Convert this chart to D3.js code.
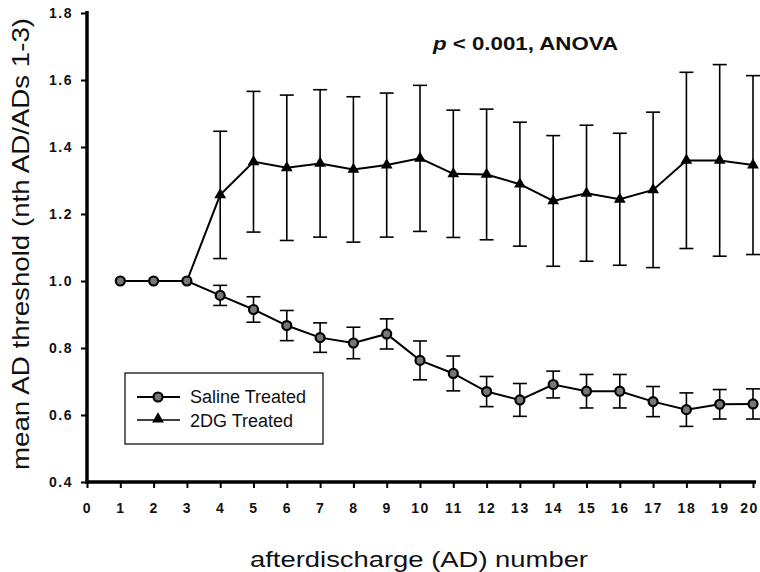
<!DOCTYPE html>
<html>
<head>
<meta charset="utf-8">
<script src="https://d3js.org/d3.v7.min.js"></script>
<style>
  body { margin: 0; background: #fff; }
  text { font-family: "Liberation Sans", Arial, sans-serif; }
</style>
</head>
<body>
<div id="chart"></div>
<script>
// AD number on the x axis
const adNumbers = d3.range(1, 21);

// Saline treated: mean and SEM
const salineMean = [1.0, 1.0, 1.0, 0.957, 0.915, 0.867, 0.831, 0.815, 0.842, 0.763,
                    0.724, 0.670, 0.645, 0.691, 0.671, 0.671, 0.640, 0.616, 0.632, 0.633];
const salineErr  = [0, 0, 0, 0.03, 0.038, 0.045, 0.044, 0.047, 0.045, 0.058,
                    0.052, 0.045, 0.049, 0.04, 0.05, 0.05, 0.045, 0.05, 0.044, 0.045];

// 2DG treated: mean and SEM
const dgMean = [1.0, 1.0, 1.0, 1.257, 1.356, 1.338, 1.351, 1.333, 1.346, 1.366,
                1.320, 1.318, 1.289, 1.239, 1.262, 1.244, 1.272, 1.360, 1.360, 1.346];
const dgErr  = [0, 0, 0, 0.19, 0.21, 0.217, 0.22, 0.217, 0.215, 0.218,
                0.19, 0.195, 0.185, 0.195, 0.203, 0.197, 0.232, 0.263, 0.286, 0.267];

const xTicks = d3.range(0, 21);
const yTicks = [0.4, 0.6, 0.8, 1.0, 1.2, 1.4, 1.6, 1.8];

const W = 760, H = 572;
const svg = d3.select("#chart").append("svg")
    .attr("width", W).attr("height", H);

const x = d3.scaleLinear().domain([0, 20]).range([87, 753]);
const y = d3.scaleLinear().domain([0.4, 1.8]).range([482, 13]);

// axes
const yAxis = svg.append("g")
    .attr("transform", "translate(87,0)")
    .call(d3.axisLeft(y).tickValues(yTicks).tickFormat(d3.format(".1f")).tickSize(6).tickSizeOuter(0).tickPadding(8));
const xAxis = svg.append("g")
    .attr("transform", "translate(0,482)")
    .call(d3.axisBottom(x).tickValues(xTicks).tickFormat(d3.format("d")).tickSize(6).tickSizeOuter(0).tickPadding(15));

[xAxis, yAxis].forEach(function (g) {
    g.select(".domain").style("stroke", "#000").style("stroke-width", "3.5px");
    g.selectAll(".tick line").style("stroke", "#000").style("stroke-width", "2px");
    g.selectAll(".tick text")
        .attr("fill", "#111")
        .style("font-size", "14px")
        .style("font-weight", "bold")
        .style("letter-spacing", "1.5px");
});
xAxis.select(".domain").attr("d", "M85,0H756");
yAxis.select(".domain").attr("d", "M0,11V484");
// last label sits at the right edge; pull it in a little
xAxis.selectAll(".tick text").filter(function (d) { return d === 20; }).attr("dx", -4);

// error bars
function errorBars(means, errs) {
    const g = svg.append("g").attr("stroke", "#000").attr("stroke-width", 1.6);
    adNumbers.forEach(function (n, i) {
        if (errs[i] <= 0) return;
        const cx = x(n), top = y(means[i] + errs[i]), bot = y(means[i] - errs[i]);
        g.append("line").attr("x1", cx).attr("x2", cx).attr("y1", top).attr("y2", bot);
        g.append("line").attr("x1", cx - 7).attr("x2", cx + 7).attr("y1", top).attr("y2", top);
        g.append("line").attr("x1", cx - 7).attr("x2", cx + 7).attr("y1", bot).attr("y2", bot);
    });
}
errorBars(dgMean, dgErr);
errorBars(salineMean, salineErr);

const line = d3.line().x(function (d) { return x(d[0]); }).y(function (d) { return y(d[1]); });

svg.append("path")
    .datum(adNumbers.map(function (n, i) { return [n, dgMean[i]]; }))
    .attr("d", line).attr("fill", "none").attr("stroke", "#000").attr("stroke-width", 2);
svg.append("path")
    .datum(adNumbers.map(function (n, i) { return [n, salineMean[i]]; }))
    .attr("d", line).attr("fill", "none").attr("stroke", "#000").attr("stroke-width", 2);

const tri = d3.symbol().type(d3.symbolTriangle).size(60);

// 2DG markers (triangles), skip the shared first three points
svg.append("g").selectAll("path")
    .data(adNumbers.filter(function (n) { return n > 3; }))
    .join("path")
    .attr("d", tri)
    .attr("transform", function (n) { return "translate(" + x(n) + "," + y(dgMean[n - 1]) + ")"; })
    .attr("fill", "#000");

// saline markers (circles)
svg.append("g").selectAll("circle")
    .data(adNumbers)
    .join("circle")
    .attr("cx", function (n) { return x(n); })
    .attr("cy", function (n) { return y(salineMean[n - 1]); })
    .attr("r", 4.5)
    .attr("fill", "#777")
    .attr("stroke", "#000")
    .attr("stroke-width", 2.2);

// legend
const leg = svg.append("g");
leg.append("rect").attr("x", 125).attr("y", 373).attr("width", 198).attr("height", 71)
    .attr("fill", "#fff").attr("stroke", "#000").attr("stroke-width", 1.2);
leg.append("line").attr("x1", 137).attr("x2", 180).attr("y1", 397).attr("y2", 397)
    .attr("stroke", "#000").attr("stroke-width", 2);
leg.append("circle").attr("cx", 158).attr("cy", 397).attr("r", 4.5)
    .attr("fill", "#777").attr("stroke", "#000").attr("stroke-width", 2.2);
leg.append("line").attr("x1", 137).attr("x2", 180).attr("y1", 420).attr("y2", 420)
    .attr("stroke", "#000").attr("stroke-width", 1.5);
leg.append("path").attr("d", tri).attr("transform", "translate(158,419)").attr("fill", "#000");
leg.append("text").attr("x", 190).attr("y", 403).text("Saline Treated")
    .style("font-size", "18px").attr("fill", "#111");
leg.append("text").attr("x", 190).attr("y", 427).text("2DG Treated")
    .style("font-size", "18px").attr("fill", "#111");

// annotation
const ann = svg.append("text").attr("x", 433).attr("y", 50)
    .attr("textLength", 185).attr("lengthAdjust", "spacingAndGlyphs")
    .style("font-size", "19px").style("font-weight", "bold").attr("fill", "#111");
ann.append("tspan").style("font-style", "italic").text("p");
ann.append("tspan").text(" < 0.001, ANOVA");

// axis titles
svg.append("text")
    .attr("transform", "translate(29,244) rotate(-90)")
    .attr("text-anchor", "middle")
    .attr("textLength", 452).attr("lengthAdjust", "spacingAndGlyphs")
    .style("font-size", "24px").attr("fill", "#111")
    .text("mean AD threshold (nth AD/ADs 1-3)");
svg.append("text")
    .attr("x", 419).attr("y", 567)
    .attr("text-anchor", "middle")
    .attr("textLength", 338).attr("lengthAdjust", "spacingAndGlyphs")
    .style("font-size", "22px").attr("fill", "#111")
    .text("afterdischarge (AD) number");
</script>
</body>
</html>
